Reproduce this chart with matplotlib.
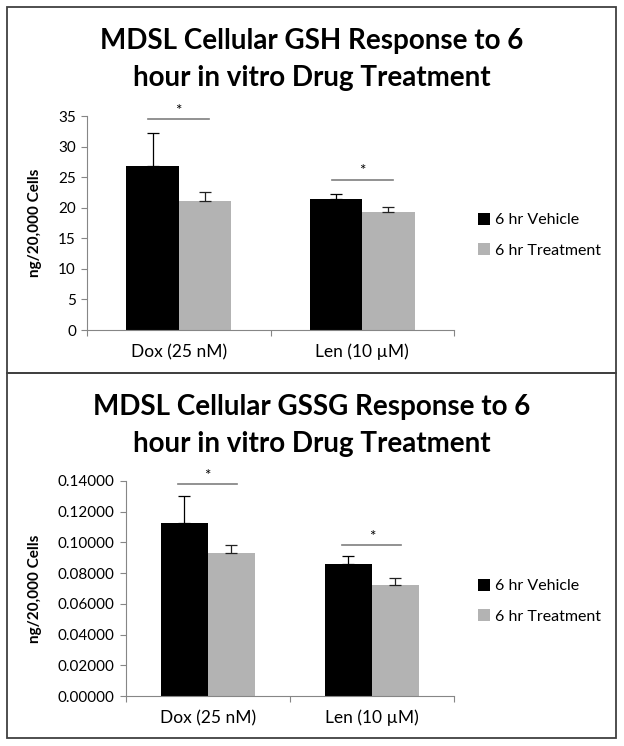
import matplotlib
matplotlib.use('Agg')
import matplotlib.pyplot as plt
from matplotlib.patches import Rectangle
from matplotlib.ticker import FormatStrFormatter

plt.rcParams['font.family'] = ['Lato', 'DejaVu Sans']

categories = ['Dox (25 nM)', 'Len (10 \u00b5M)']
series = ['6 hr Vehicle', '6 hr Treatment']

# GSH panel
gsh_title = ['MDSL Cellular GSH Response to 6', 'hour in vitro Drug Treatment']
gsh_vehicle = [26.9, 21.4]
gsh_treat = [21.1, 19.3]
gsh_vehicle_err = [5.3, 0.8]
gsh_treat_err = [1.4, 0.8]
gsh_sig_y = [34.5, 24.6]

# GSSG panel
gssg_title = ['MDSL Cellular GSSG Response to 6', 'hour in vitro Drug Treatment']
gssg_vehicle = [0.1125, 0.0858]
gssg_treat = [0.0933, 0.0725]
gssg_vehicle_err = [0.0177, 0.0052]
gssg_treat_err = [0.0048, 0.0041]
gssg_sig_y = [0.138, 0.0983]

W, H = 624, 746
fig = plt.figure(figsize=(W / 100, H / 100), dpi=100)

# panel frames
fig.patches.append(Rectangle((7 / W, 1 - 373 / H), 609 / W, 366 / H, transform=fig.transFigure,
                             fill=False, edgecolor='#404040', linewidth=1.3))
fig.patches.append(Rectangle((7 / W, 1 - 738 / H), 609 / W, 365 / H, transform=fig.transFigure,
                             fill=False, edgecolor='#404040', linewidth=1.3))

BLACK = '#000000'
GRAY = '#b3b3b3'
AXC = '#868686'


def draw_panel(rect, title, title_base, veh, trt, veh_err, trt_err, sig_y, ymax, step, fmt, leg_y, sig_dx):
    ax = fig.add_axes(rect)
    w = 0.286
    xs = [0.5, 1.5]
    xv = [x - w / 2 for x in xs]
    xt = [x + w / 2 for x in xs]
    ax.bar(xv, veh, width=w, color=BLACK, label=series[0])
    ax.bar(xt, trt, width=w, color=GRAY, label=series[1])
    ax.errorbar(xv, veh, yerr=[[0, 0], veh_err], fmt='none', ecolor='black', elinewidth=0.9, capsize=4, capthick=0.9)
    ax.errorbar(xt, trt, yerr=[[0, 0], trt_err], fmt='none', ecolor='#222222', elinewidth=0.9, capsize=4, capthick=0.9)
    for x, y in zip(xs, sig_y):
        ax.plot([x - sig_dx, x + sig_dx], [y, y], color='#7f7f7f', linewidth=1.2, clip_on=False)
        ax.annotate('*', (x, y), xytext=(0, 1), textcoords='offset points', ha='center', va='bottom', fontsize=11)
    ax.set_xlim(0, 2)
    ax.set_ylim(0, ymax)
    ax.set_yticks([i * step for i in range(int(round(ymax / step)) + 1)])
    ax.yaxis.set_major_formatter(FormatStrFormatter(fmt))
    ax.set_xticks([0, 1, 2])
    ax.set_xticklabels([])
    ax.set_xticks(xs, minor=True)
    ax.set_xticklabels(categories, minor=True)
    ax.tick_params(axis='x', which='minor', length=0, pad=10, labelsize=12.5)
    ax.tick_params(axis='x', which='major', length=4, color=AXC, direction='out')
    ax.tick_params(axis='y', length=4, color=AXC, labelsize=11, pad=4)
    for s in ['top', 'right']:
        ax.spines[s].set_visible(False)
    for s in ['left', 'bottom']:
        ax.spines[s].set_color(AXC)
    ax.set_ylabel('ng/20,000 Cells', fontweight='bold', fontsize=11)
    # label centre at x = 42 px in the figure
    ax.yaxis.set_label_coords((42 - rect[0] * W) / (rect[2] * W), 0.5)
    for line, yb in zip(title, title_base):
        fig.text(312 / W, 1 - yb / H, line, ha='center', va='baseline', fontsize=20, fontweight='bold')
    ax.legend(loc='upper left', bbox_to_anchor=(478 / W, leg_y), bbox_transform=fig.transFigure,
              frameon=False, fontsize=11.5, handlelength=0.75, handleheight=0.75, handletextpad=0.3,
              labelspacing=1.0, borderaxespad=0, borderpad=0)
    return ax


draw_panel([87 / W, 1 - 330 / H, 367 / W, 214 / H], gsh_title, [49, 86],
           gsh_vehicle, gsh_treat, gsh_vehicle_err, gsh_treat_err, gsh_sig_y, 35, 5, '%d',
           1 - 213 / H, 0.165)

draw_panel([125.7 / W, 1 - 696 / H, 328.3 / W, 215 / H], gssg_title, [415, 452],
           gssg_vehicle, gssg_treat, gssg_vehicle_err, gssg_treat_err, gssg_sig_y, 0.14, 0.02, '%.5f',
           1 - 579 / H, 0.18)

fig.savefig('out.png', dpi=100)
